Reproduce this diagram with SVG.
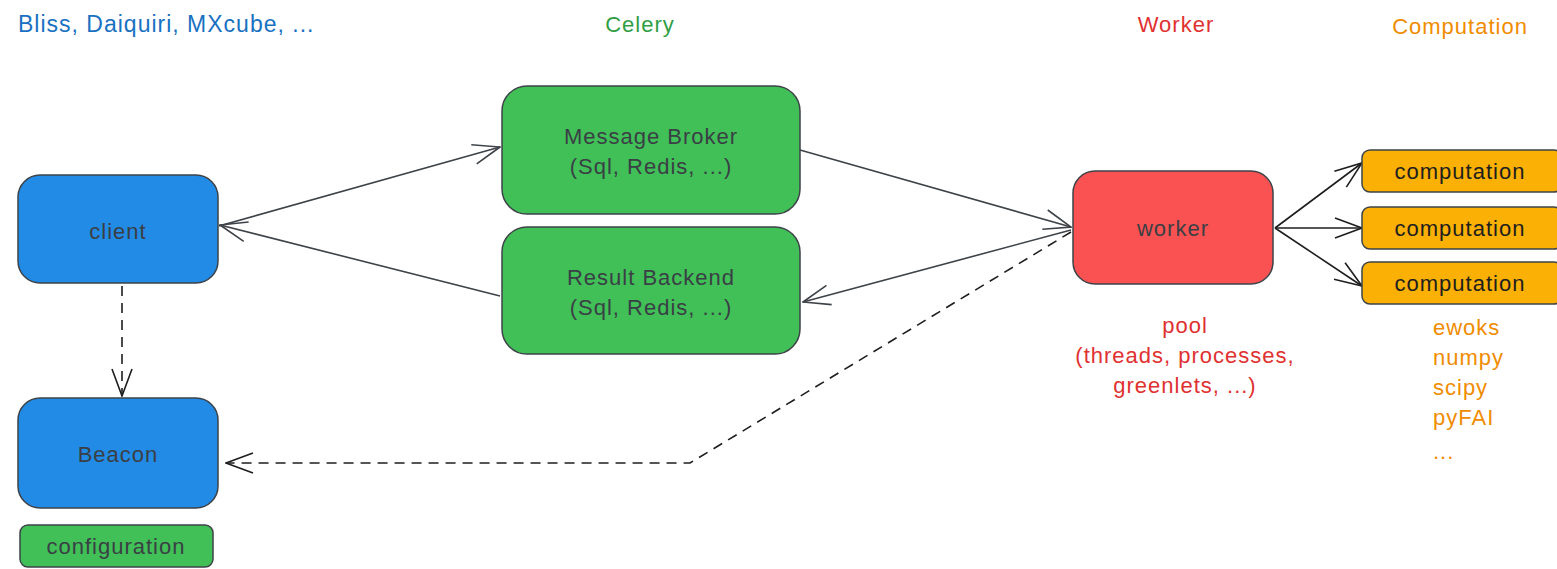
<svg xmlns="http://www.w3.org/2000/svg" width="1557" height="569" viewBox="0 0 1557 569">
<style>
text{font-family:"Liberation Sans","DejaVu Sans",sans-serif;font-size:22px;letter-spacing:1px;}
.box{stroke:#3d4348;stroke-width:1.5;}
.blue{fill:#228be6;}
.green{fill:#40c057;}
.red{fill:#fa5252;}
.orange{fill:#fab005;}
.lbl{fill:#3a3f45;text-anchor:middle;}
.lblk{fill:#1e1e1e;text-anchor:middle;}
.conn{fill:none;stroke:#3d4348;stroke-width:1.6;}
.dash{stroke-dasharray:10 7;stroke:#1e1e1e;}
.dark{stroke:#1e1e1e;}
</style>
<defs>
<marker id="arr" viewBox="0 0 30 24" refX="29" refY="12" markerWidth="30" markerHeight="24" markerUnits="userSpaceOnUse" orient="auto">
<path d="M2 2 L29 12 L2 22" fill="none" stroke="#3d4348" stroke-width="1.6"/>
</marker>
<marker id="arrk" viewBox="0 0 30 24" refX="29" refY="12" markerWidth="30" markerHeight="24" markerUnits="userSpaceOnUse" orient="auto">
<path d="M2 2 L29 12 L2 22" fill="none" stroke="#1e1e1e" stroke-width="1.6"/>
</marker>
</defs>

<g id="headers">
<text x="18" y="32" fill="#1971c2" style="font-size:23px">Bliss, Daiquiri, MXcube, ...</text>
<text x="640" y="32" fill="#2f9e44" text-anchor="middle">Celery</text>
<text x="1176" y="32" fill="#e03131" text-anchor="middle">Worker</text>
<text x="1460" y="34" fill="#f08c00" text-anchor="middle">Computation</text>
</g>

<g id="connectors">
<line class="conn" x1="219" y1="226" x2="500" y2="147" marker-end="url(#arr)"/>
<line class="conn" x1="500" y1="296" x2="220" y2="225" marker-end="url(#arr)"/>
<line class="conn" x1="800" y1="150" x2="1071" y2="227" marker-end="url(#arr)"/>
<line class="conn" x1="1071" y1="230" x2="803" y2="302" marker-end="url(#arr)"/>
<polyline class="conn dash" points="1071,232 690,463 226,463" marker-end="url(#arrk)"/>
<line class="conn dash" x1="122" y1="286" x2="122" y2="396" marker-end="url(#arrk)"/>
<line class="conn dark" x1="1275" y1="228" x2="1362" y2="163" marker-end="url(#arrk)"/>
<line class="conn dark" x1="1275" y1="228" x2="1362" y2="228" marker-end="url(#arrk)"/>
<line class="conn dark" x1="1275" y1="228" x2="1362" y2="286" marker-end="url(#arrk)"/>
</g>

<g id="client">
<rect class="box blue" x="18" y="175" width="200" height="108" rx="22"/>
<text class="lbl" x="118" y="239">client</text>
</g>
<g id="beacon">
<rect class="box blue" x="18" y="398" width="200" height="110" rx="22"/>
<text class="lbl" x="118" y="462">Beacon</text>
</g>
<g id="configuration">
<rect class="box green" x="20" y="525" width="193" height="42" rx="8"/>
<text class="lbl" x="116" y="554">configuration</text>
</g>
<g id="message-broker">
<rect class="box green" x="502" y="86" width="298" height="128" rx="25"/>
<text class="lbl" x="651" y="144">Message Broker</text>
<text class="lbl" x="651" y="174">(Sql, Redis, ...)</text>
</g>
<g id="result-backend">
<rect class="box green" x="502" y="227" width="298" height="127" rx="25"/>
<text class="lbl" x="651" y="285">Result Backend</text>
<text class="lbl" x="651" y="315">(Sql, Redis, ...)</text>
</g>
<g id="worker">
<rect class="box red" x="1073" y="171" width="200" height="113" rx="22"/>
<text class="lbl" x="1173" y="236">worker</text>
</g>
<g id="pool">
<text x="1185" y="333" fill="#e03131" text-anchor="middle">pool</text>
<text x="1185" y="363" fill="#e03131" text-anchor="middle">(threads, processes,</text>
<text x="1185" y="393" fill="#e03131" text-anchor="middle">greenlets, ...)</text>
</g>
<g id="computation1">
<rect class="box orange" x="1362" y="150" width="200" height="42" rx="8"/>
<text class="lblk" x="1460" y="179">computation</text>
</g>
<g id="computation2">
<rect class="box orange" x="1362" y="207" width="200" height="42" rx="8"/>
<text class="lblk" x="1460" y="236">computation</text>
</g>
<g id="computation3">
<rect class="box orange" x="1362" y="262" width="200" height="42" rx="8"/>
<text class="lblk" x="1460" y="291">computation</text>
</g>
<g id="libs" fill="#f08c00">
<text x="1433" y="335">ewoks</text>
<text x="1433" y="365">numpy</text>
<text x="1433" y="395">scipy</text>
<text x="1433" y="425">pyFAI</text>
<text x="1433" y="459">...</text>
</g>
</svg>
